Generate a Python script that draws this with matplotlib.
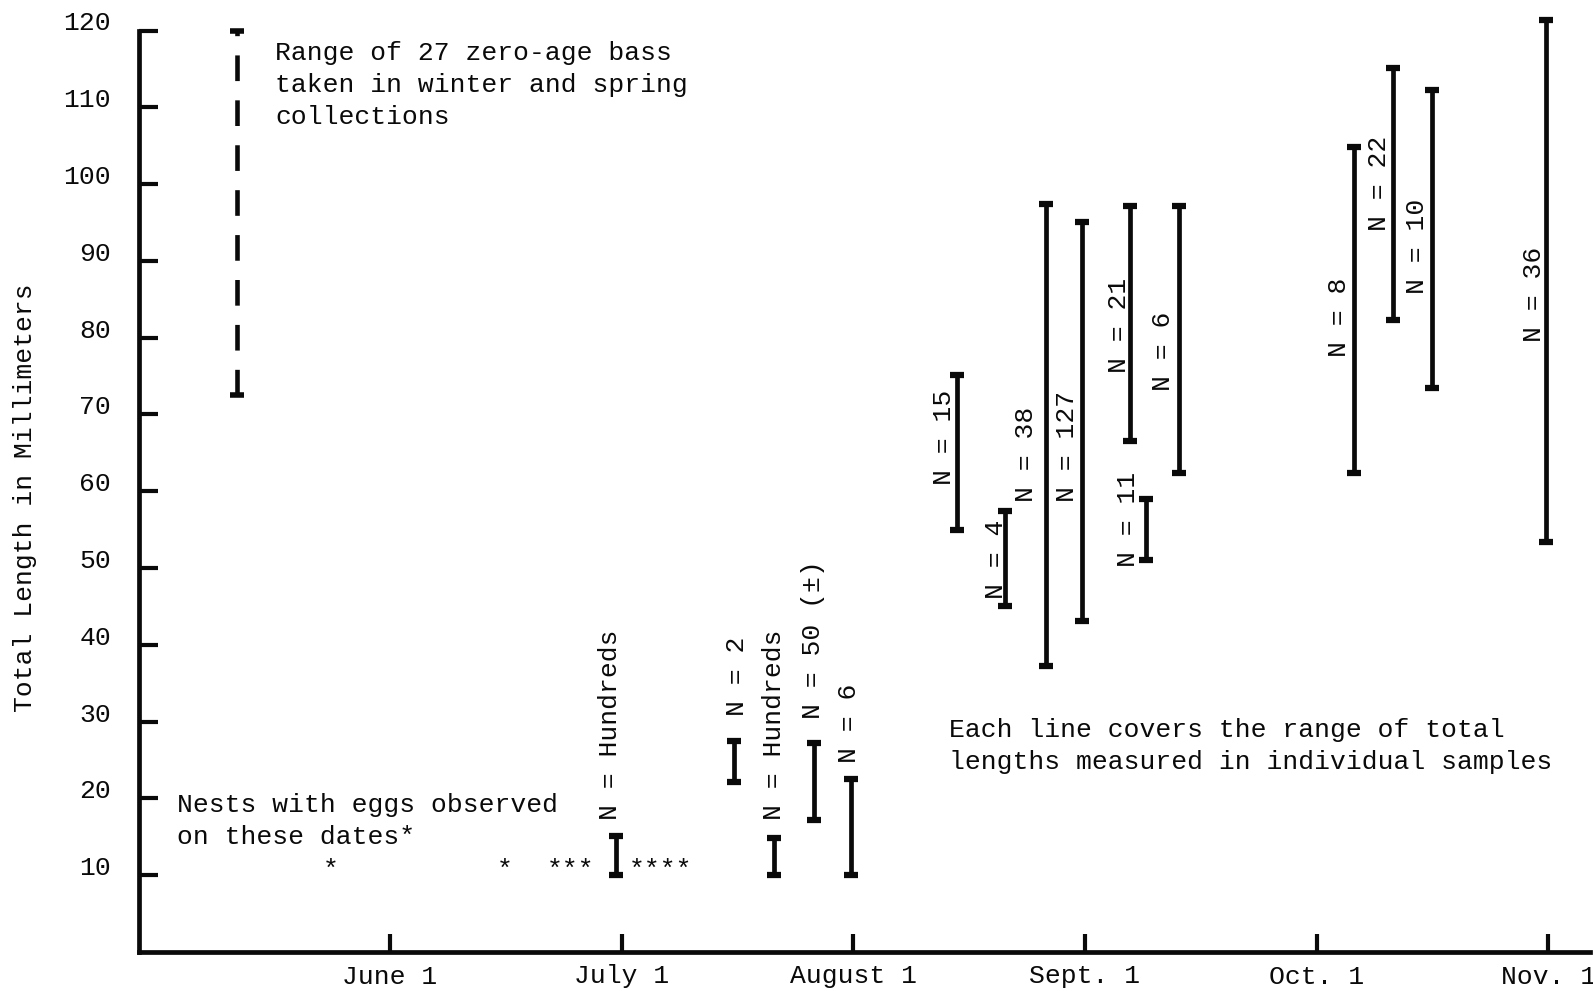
import matplotlib
matplotlib.use('Agg')
import matplotlib.pyplot as plt

plt.rcParams['font.family'] = ['Liberation Mono', 'DejaVu Sans Mono']

# ---- data (x in months after June 1; y in mm) ----
month_ticks = [0, 1, 2, 3, 4, 5]
month_labels = ['June 1', 'July 1', 'August 1', 'Sept. 1', 'Oct. 1', 'Nov. 1']
y_ticks = [10, 20, 30, 40, 50, 60, 70, 80, 90, 100, 110, 120]

winter_x = -0.658
winter_low = 72.5
winter_high = 120.0

sample_x = [0.978, 1.487, 1.658, 1.829, 1.991, 2.447, 2.654, 2.833,
            2.987, 3.193, 3.263, 3.404, 4.162, 4.329, 4.500, 4.991]
sample_low = [10.0, 22.2, 10.0, 17.2, 10.0, 55.0, 45.0, 37.3,
              43.1, 66.5, 51.1, 62.4, 62.4, 82.3, 73.5, 53.4]
sample_high = [15.1, 27.5, 14.8, 27.2, 22.5, 75.1, 57.4, 97.4,
               95.0, 97.1, 59.0, 97.1, 104.8, 115.1, 112.2, 121.4]
sample_n = ['Hundreds', '2', 'Hundreds', '50 (±)', '6', '15', '4', '38',
            '127', '21', '11', '6', '8', '22', '10', '36']
label_x = [0.952, 1.500, 1.658, 1.825, 1.982, 2.390, 2.618, 2.746,
           2.921, 3.145, 3.184, 3.338, 4.096, 4.268, 4.434, 4.939]
label_y = [17.2, 30.7, 17.2, 30.4, 24.6, 60.8, 46.0, 58.6,
           58.6, 75.4, 50.2, 73.1, 77.5, 93.9, 85.7, 79.5]

nest_x = [-0.254, 0.496, 0.781, 1.167]
nest_marks = ['*', '*', '***', '****']
nest_y = 9.8

# ---- figure ----
W, H = 1593, 991
fig = plt.figure(figsize=(W / 100, H / 100), dpi=100)
ax = fig.add_axes([139 / W, 39 / H, 1451 / W, 921.5 / H])
ax.set_xlim(-1.083, 5.18)
ax.set_ylim(0, 120)

FS = 19
ink = '#0a0a0a'

for s in ['top', 'right']:
    ax.spines[s].set_visible(False)
for s in ['left', 'bottom']:
    ax.spines[s].set_linewidth(3.4)
    ax.spines[s].set_color(ink)
    ax.spines[s].set_capstyle('projecting')

ax.set_xticks(month_ticks)
ax.set_xticklabels(month_labels)
ax.set_yticks(y_ticks)
ax.set_yticklabels([str(v) for v in y_ticks])
ax.tick_params(axis='y', direction='in', length=14, width=3.0, pad=20,
               labelsize=FS, colors=ink)
ax.tick_params(axis='x', direction='in', length=13, width=3.0, pad=9,
               labelsize=FS, colors=ink)
for lab in ax.get_yticklabels():
    lab.set_verticalalignment('baseline')

# dashed winter/spring range
ax.vlines([winter_x], [winter_low], [winter_high], colors=ink, lw=3.3,
          linestyles=[(0, (5.6, 4.2))], clip_on=False)
ax.plot([winter_x, winter_x], [winter_low, winter_high], ls='none',
        marker='_', ms=9.5, mew=4.0, color=ink, clip_on=False)

# sample ranges
ax.vlines(sample_x, sample_low, sample_high, colors=ink, lw=3.4, clip_on=False)
ax.plot(sample_x, sample_low, ls='none', marker='_', ms=10.5, mew=4.5,
        color=ink, clip_on=False)
ax.plot(sample_x, sample_high, ls='none', marker='_', ms=10.5, mew=4.5,
        color=ink, clip_on=False)

for x, y, n in zip(label_x, label_y, sample_n):
    ax.text(x, y, 'N = ' + n, rotation=90, ha='center', va='bottom',
            fontsize=FS, color=ink)

for x, m in zip(nest_x, nest_marks):
    ax.text(x, nest_y, m, ha='center', va='baseline', fontsize=FS, color=ink)

# annotations (each line placed on its own baseline)
def block(x, y0, lines, dy=4.17):
    for i, line in enumerate(lines):
        ax.text(x, y0 - i * dy, line, ha='left', va='baseline',
                fontsize=FS, color=ink)

block(-0.496, 116.1, ['Range of 27 zero-age bass',
                      'taken in winter and spring',
                      'collections'])
block(-0.917, 18.25, ['Nests with eggs observed',
                      'on these dates*'])
block(2.412, 28.0, ['Each line covers the range of total',
                    'lengths measured in individual samples'])

fig.text(25.5 / W, 1 - 498 / H, 'Total Length in Millimeters', rotation=90,
         ha='center', va='center', fontsize=FS, color=ink)

fig.savefig('out.png', dpi=100, facecolor='white')
